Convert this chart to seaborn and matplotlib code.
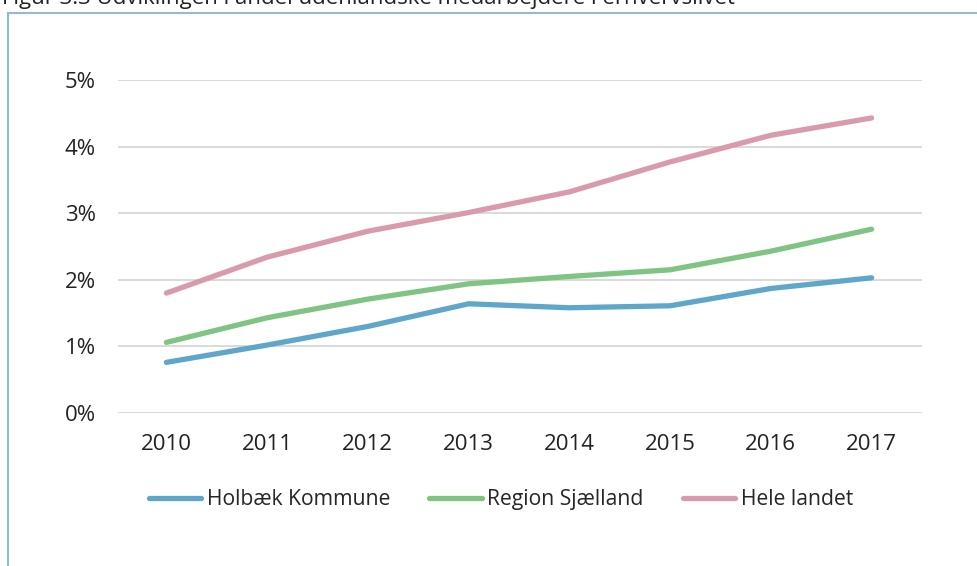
import pandas as pd
import matplotlib
matplotlib.use('Agg')
import matplotlib.pyplot as plt
from matplotlib.patches import Rectangle
from matplotlib.ticker import FuncFormatter
import seaborn as sns

# data (share in %)
years = ["2010", "2011", "2012", "2013", "2014", "2015", "2016", "2017"]
holbaek = [0.76, 1.02, 1.30, 1.64, 1.58, 1.61, 1.87, 2.03]
region = [1.06, 1.43, 1.71, 1.94, 2.05, 2.15, 2.43, 2.76]
hele = [1.80, 2.34, 2.73, 3.01, 3.32, 3.77, 4.17, 4.43]
series_names = ["Holbæk Kommune", "Region Sjælland", "Hele landet"]
title = "Figur 3.3 Udviklingen i andel udenlandske medarbejdere i erhvervslivet"

colors = ["#5EA7CB", "#80C483", "#D99BAB"]

df = pd.DataFrame({
    "year": years * 3,
    "value": holbaek + region + hele,
    "series": [s for s in series_names for _ in years],
})

sns.set_style("white")
plt.rcParams['font.family'] = ['Open Sans', 'DejaVu Sans']

fig = plt.figure(figsize=(9.78, 5.66), dpi=100)
ax = fig.add_axes([118 / 978, 153 / 566, 804 / 978, 333 / 566])

sns.lineplot(data=df, x="year", y="value", hue="series", palette=colors,
             linewidth=3.8, ax=ax, sort=False, legend=True)
for line in ax.lines:
    line.set_solid_capstyle("round")
    line.set_clip_on(False)

ax.set_xlim(-0.48, 7.5)
ax.set_ylim(0, 5)
ax.set_yticks([0, 1, 2, 3, 4, 5])
ax.yaxis.set_major_formatter(FuncFormatter(lambda v, p: f"{v:.0f}%"))
ax.grid(axis="y", color="#d9d9d9", linewidth=1.4)
ax.set_axisbelow(True)
for side in ["top", "right", "left", "bottom"]:
    ax.spines[side].set_visible(False)
ax.tick_params(axis="both", length=0, labelsize=16, colors="#222222")
ax.tick_params(axis="x", pad=15)
ax.tick_params(axis="y", pad=16)
ax.set_xlabel("")
ax.set_ylabel("")

handles, labels = ax.get_legend_handles_labels()
for h in handles:
    h.set_linewidth(3.8)
    h.set_solid_capstyle("round")
ax.legend(handles, labels, loc="center", bbox_to_anchor=(0.476, -0.26),
          ncol=3, frameon=False, fontsize=15.2, handlelength=2.5,
          handletextpad=0.25, columnspacing=1.85)

# outer frame and the cut-off caption above it
fig.patches.append(Rectangle((8 / 978, -0.05), 1.0, 1 - 13.5 / 566 + 0.05,
                             transform=fig.transFigure, fill=False,
                             edgecolor="#8DBCD8", linewidth=1.5))
fig.text(2 / 978, 1 - 4 / 566, title, fontsize=16, color="#222222",
         ha="left", va="baseline")

fig.savefig("out.png", dpi=100)
